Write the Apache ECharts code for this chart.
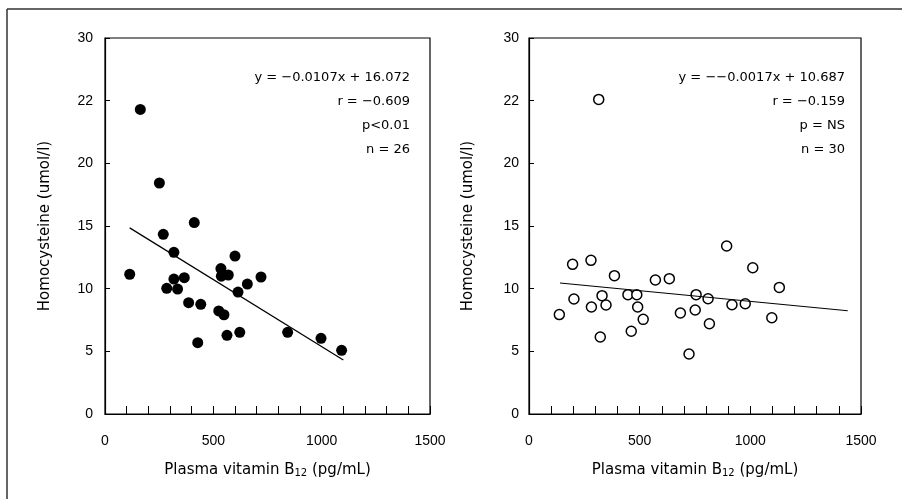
<!DOCTYPE html>
<html>
<head>
<meta charset="utf-8">
<script src="https://cdn.jsdelivr.net/npm/echarts@6/dist/echarts.min.js"></script>
<style>
html,body{margin:0;padding:0;background:#fff;}
#c{width:902px;height:499px;}
</style>
</head>
<body>
<div id="c"></div>
<script>
// ---- data ----
const leftPoints = [
  [163,24.3],[251,18.43],[412,15.27],[269,14.34],[318,12.9],[600,12.6],
  [114,11.15],[535,11.6],[537,11.0],[569,11.09],[318,10.77],[366,10.88],
  [720,10.93],[657,10.37],[285,10.03],[335,9.97],[614,9.73],[386,8.88],
  [442,8.75],[525,8.22],[549,7.92],[622,6.52],[563,6.28],[428,5.69],
  [843,6.52],[997,6.04],[1092,5.08]
];
const rightPoints = [
  [315,25.1],[893,13.4],[197,11.94],[280,12.26],[386,11.04],[571,10.69],
  [634,10.8],[1011,11.67],[1131,10.1],[203,9.18],[330,9.44],[447,9.52],
  [487,9.52],[755,9.52],[809,9.2],[137,7.93],[282,8.54],[348,8.7],
  [491,8.54],[516,7.55],[684,8.06],[751,8.3],[917,8.72],[977,8.8],
  [1097,7.68],[815,7.2],[462,6.6],[322,6.14],[723,4.79]
];
const leftFitLine = [[114,14.85],[1100,4.3]];
const rightFitLine = [[140,10.45],[1440,8.24]];
const yTickValues = [0,5,10,15,20,25,30];
const yTickLabels = ['0','5','10','15','20','22','30'];
const xLabelValues = [0,500,1000,1500];
const leftStats = ['y = \u22120.0107x + 16.072','r = \u22120.609','p<0.01','n = 26'];
const rightStats = ['y = \u2212\u22120.0017x + 10.687','r = \u22120.159','p = NS','n = 30'];
const yTitle = 'Homocysteine (umol/l)';

const FONT = '"Liberation Sans", Arial, sans-serif';
const FONT2 = '"DejaVu Sans", sans-serif';

function xAxis(gi){
  return {
    type:'value', gridIndex:gi, min:0, max:1500, interval:100,
    axisLine:{lineStyle:{color:'#000',width:1.2}},
    axisTick:{inside:true,length:8,lineStyle:{color:'#000',width:1}},
    splitLine:{show:false},
    axisLabel:{margin:20,color:'#000',fontSize:14,fontFamily:FONT,
      formatter:v=> xLabelValues.indexOf(v)>=0 ? String(v) : '', showMinLabel:true, showMaxLabel:true},
    name:'Plasma vitamin B{sub|12} (pg/mL)',
    nameLocation:'middle', nameGap:48,
    nameTextStyle:{color:'#000',fontSize:15,fontFamily:FONT2,
      rich:{sub:{fontSize:10,verticalAlign:'bottom',padding:[6,0,0,0],fontFamily:FONT2,color:'#000'}}}
  };
}
function yAxis(gi,margin,gap){
  return {
    type:'value', gridIndex:gi, min:0, max:30, interval:5,
    axisLine:{show:true,lineStyle:{color:'#000',width:1.2}},
    axisTick:{show:true,inside:true,length:5,lineStyle:{color:'#000'}},
    splitLine:{show:false},
    axisLabel:{margin:margin,color:'#000',fontSize:14,fontFamily:FONT,
      formatter:v=>{const i=yTickValues.indexOf(v);return i>=0?yTickLabels[i]:'';}},
    name:yTitle, nameLocation:'middle', nameGap:gap, nameRotate:90,
    nameTextStyle:{color:'#000',fontSize:15,fontFamily:FONT2}
  };
}

const grids = [
  {left:105,top:38,width:325,height:376,show:true,borderColor:'#000',borderWidth:1.2,backgroundColor:'transparent'},
  {left:529,top:38,width:332,height:376,show:true,borderColor:'#000',borderWidth:1.2,backgroundColor:'transparent'}
];

function statsGraphic(lines,rightX){
  return lines.map((t,i)=>({
    type:'text', right: 902-rightX, top: 71+i*24,
    style:{text:t, fill:'#000', font:'13px '+FONT2, textAlign:'right'}
  }));
}

const chart = echarts.init(document.getElementById('c'),null,{renderer:'canvas'});
chart.setOption({
  animation:false,
  backgroundColor:'#fff',
  grid:grids,
  xAxis:[xAxis(0),xAxis(1)],
  yAxis:[yAxis(0,12,52),yAxis(1,10,53)],
  series:[
    {type:'scatter',xAxisIndex:0,yAxisIndex:0,data:leftPoints,symbol:'circle',symbolSize:11,
     itemStyle:{color:'#000',opacity:1}},
    {type:'line',xAxisIndex:0,yAxisIndex:0,data:leftFitLine,symbol:'none',
     lineStyle:{color:'#000',width:1.2}},
    {type:'scatter',xAxisIndex:1,yAxisIndex:1,data:rightPoints,symbol:'circle',symbolSize:10,
     itemStyle:{color:'#fff',borderColor:'#000',borderWidth:1.5,opacity:1}},
    {type:'line',xAxisIndex:1,yAxisIndex:1,data:rightFitLine,symbol:'none',
     lineStyle:{color:'#000',width:1.2}}
  ],
  graphic:[
    {type:'line',shape:{x1:7,y1:9,x2:902,y2:9},style:{stroke:'#333',lineWidth:1.5}},
    {type:'line',shape:{x1:7,y1:9,x2:7,y2:499},style:{stroke:'#333',lineWidth:1.5}}
  ].concat(statsGraphic(leftStats,410)).concat(statsGraphic(rightStats,845))
});
</script>
</body>
</html>
